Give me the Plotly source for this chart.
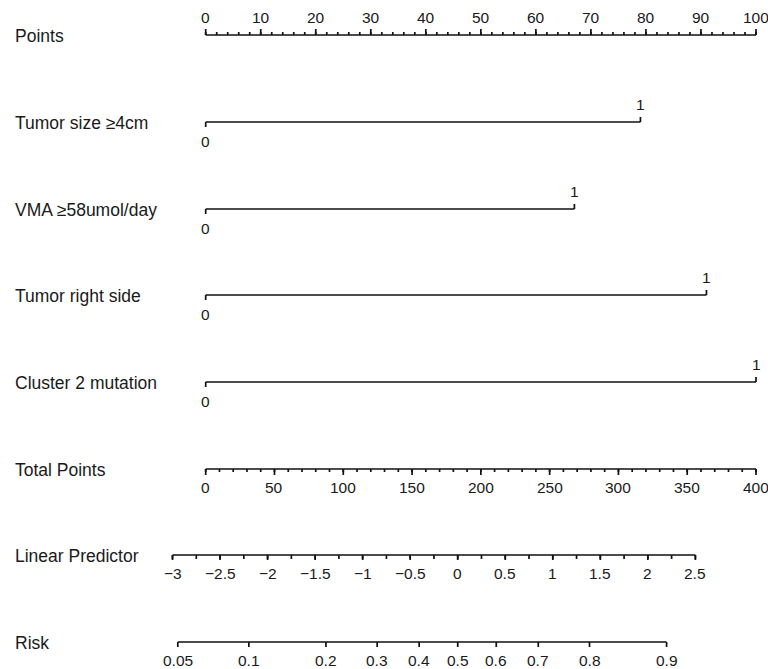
import numpy as np
import plotly.graph_objects as go

# ---------------- data ----------------
points_major = list(range(0, 101, 10))
points_minor = list(range(0, 101, 2))

variables = ["Tumor size ≥4cm", "VMA ≥58umol/day", "Tumor right side", "Cluster 2 mutation"]
var_points = [79, 67, 91, 100]          # points for level "1" (level "0" = 0 points)
var_levels = ["0", "1"]

total_major = list(range(0, 401, 50))
total_minor = list(range(0, 401, 10))

lp_major = [-3, -2.5, -2, -1.5, -1, -0.5, 0, 0.5, 1, 1.5, 2, 2.5]
lp_major_text = ["−3", "−2.5", "−2", "−1.5", "−1", "−0.5", "0", "0.5", "1", "1.5", "2", "2.5"]
lp_minor = [-3 + 0.25 * i for i in range(23)]

risk_ticks = [0.05, 0.1, 0.2, 0.3, 0.4, 0.5, 0.6, 0.7, 0.8, 0.9]
risk_text = ["0.05", "0.1", "0.2", "0.3", "0.4", "0.5", "0.6", "0.7", "0.8", "0.9"]

lp_at_zero_points = -2.651   # linear predictor at 0 total points
total_points_per_lp = 69.1   # total points per unit of linear predictor

row_names = ["Points"] + variables + ["Total Points", "Linear Predictor", "Risk"]

# ---------------- layout constants ----------------
W, H = 768, 669
PX0, PX100 = 205.7, 756.0           # pixel positions of 0 and 100 points
ppp = (PX100 - PX0) / 100.0         # pixels per point
row_px = [35, 122, 209, 295, 382, 469, 555, 642]
LW = 1.7
COL = "#111111"
TXT = "#1a1a1a"
FONT = "Liberation Sans, Arial, sans-serif"
LABEL_OFF = 18
TICK_FS = 15.5

# scales: everything expressed in "Points" x units
def x_from_total(tp):
    return np.asarray(tp, dtype=float) / 4.0

def x_from_lp(lp):
    return x_from_total((np.asarray(lp, dtype=float) - lp_at_zero_points) * total_points_per_lp)

def x_from_risk(r):
    r = np.asarray(r, dtype=float)
    return x_from_lp(np.log(r / (1 - r)))

fig = go.Figure()
annotations = []

def add_axis(xs_major, labels, xs_minor, y, up, major_len, minor_len):
    xs_major = list(np.atleast_1d(xs_major))
    lo, hi = min(xs_major), max(xs_major)
    sx, sy = [lo, hi, None], [y, y, None]
    d = -1 if up else 1
    for xm in (list(np.atleast_1d(xs_minor)) if xs_minor is not None else []):
        sx += [xm, xm, None]
        sy += [y, y + d * minor_len, None]
    for xm in xs_major:
        sx += [xm, xm, None]
        sy += [y, y + d * major_len, None]
    fig.add_trace(go.Scatter(x=sx, y=sy, mode="lines", line=dict(color=COL, width=LW),
                             hoverinfo="skip", showlegend=False))
    for xm, t in zip(xs_major, labels):
        annotations.append(dict(x=xm, y=y, text=t, showarrow=False, xanchor="center",
                                yanchor="middle", yshift=(LABEL_OFF if up else -LABEL_OFF),
                                font=dict(family=FONT, size=TICK_FS, color=TXT)))

# Points axis (ticks up, labels above)
add_axis(points_major, [str(v) for v in points_major], points_minor, row_px[0], True, 6, 3)

# Variable rows
for i, (name, pts) in enumerate(zip(variables, var_points)):
    y = row_px[1 + i]
    fig.add_trace(go.Scatter(x=[0, pts, None, 0, 0, None, pts, pts],
                             y=[y, y, None, y, y + 5, None, y, y - 5],
                             mode="lines", line=dict(color=COL, width=LW),
                             hoverinfo="skip", showlegend=False))
    annotations.append(dict(x=0, y=y, text=var_levels[0], showarrow=False, xanchor="center",
                            yanchor="middle", yshift=-LABEL_OFF - 1,
                            font=dict(family=FONT, size=TICK_FS, color=TXT)))
    annotations.append(dict(x=pts, y=y, text=var_levels[1], showarrow=False, xanchor="center",
                            yanchor="middle", yshift=LABEL_OFF,
                            font=dict(family=FONT, size=TICK_FS, color=TXT)))

# Total points
add_axis(x_from_total(total_major), [str(v) for v in total_major], x_from_total(total_minor),
         row_px[5], False, 6, 3)

# Linear predictor
add_axis(x_from_lp(lp_major), lp_major_text, x_from_lp(lp_minor), row_px[6], False, 5, 4)

# Risk
add_axis(x_from_risk(risk_ticks), risk_text, None, row_px[7], False, 5, 3)

# Row labels
for name, y in zip(row_names, row_px):
    annotations.append(dict(x=13 / W, xref="paper", y=y, yref="y", text=name, showarrow=False,
                            xanchor="left", yanchor="middle", yshift=-1,
                            font=dict(family=FONT, size=17.5, color=TXT)))

x_lo = -PX0 / ppp
x_hi = (W - PX0) / ppp
fig.update_layout(
    width=W, height=H, autosize=False,
    margin=dict(l=0, r=0, t=0, b=0),
    paper_bgcolor="white", plot_bgcolor="white",
    xaxis=dict(range=[x_lo, x_hi], visible=False, fixedrange=True),
    yaxis=dict(range=[H, 0], visible=False, fixedrange=True),
    annotations=annotations,
    showlegend=False,
)
fig.write_html(
    "out.html",
    config={"displayModeBar": False},
    post_script="document.body.style.margin='0';document.body.style.overflow='hidden';",
)
